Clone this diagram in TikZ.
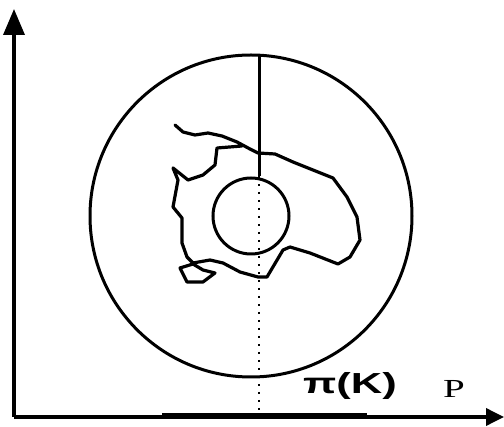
\documentclass[tikz,border=0pt]{standalone}
\usepackage{fontspec}
\newfontfamily\labelfont{Liberation Sans}
\newfontfamily\axisfont{Liberation Serif}
\usetikzlibrary{arrows.meta}

\begin{document}
\begin{tikzpicture}[
  x=1pt, y=-1pt,
  eixo/.style={line width=3.6pt},
  curva/.style={line width=3.2pt, line join=round, line cap=round},
  circulo/.style={line width=3pt},
  pontilhado/.style={line width=2.4pt, dash pattern=on 2.2pt off 5.8pt}
]
  \useasboundingbox (0,0) rectangle (504,427);

  % eixos
  \coordinate (origem) at (14,417);
  \coordinate (topo) at (14,9);
  \coordinate (fim) at (504,417);
  \draw[eixo, -{Triangle[length=26pt,width=21pt]}] (origem) -- (topo);
  \draw[eixo, -{Triangle[length=18pt,width=17pt]}] (origem) -- (fim);

  % projecao pi(K)
  \coordinate (pa) at (162,416);
  \coordinate (pb) at (367,416);
  \draw[line width=5.4pt] (pa) -- (pb);

  % circulos
  \coordinate (centro) at (251,216);
  \draw[circulo] (centro) circle[radius=161pt];
  \draw[circulo] (centro) circle[radius=38pt];

  % reta vertical
  \coordinate (r1) at (259,55);
  \coordinate (r2) at (259,176);
  \coordinate (r3) at (259,416);
  \draw[line width=3pt] (r1) -- (r2);
  \draw[pontilhado] (r2) -- (r3);

  % conjunto K
  \draw[curva] (175,125) -- (183,132) -- (195,135) -- (208,133) -- (222,136)
    -- (237,142) -- (250,149) -- (258,153) -- (275,154) -- (293,162)
    -- (313,170) -- (333,178) -- (347,197) -- (357,217) -- (360,240)
    -- (350,257) -- (338,264) -- (310,253) -- (290,247) -- (283,250)
    -- (267,277) -- (258,277) -- (240,272) -- (223,263) -- (210,260)
    -- (193,263) -- (187,257) -- (182,243) -- (182,218) -- (173,207)
    -- (178,180) -- (173,168) -- (188,180) -- (203,175) -- (215,165)
    -- (217,148) -- (242,146);
  \draw[curva] (193,264) -- (180,268) -- (187,282) -- (203,282)
    -- (215,273) -- (203,270) -- cycle;

  % rotulos
  \node[font=\labelfont\bfseries\fontsize{29}{32}\selectfont] (rotK) at (350,386)
    {\scalebox{1.5}[1]{π(K)}};
  \node[font=\axisfont\fontsize{26}{30}\selectfont] (rotP) at (454,389)
    {\scalebox{1.5}[1]{P}};
\end{tikzpicture}
\end{document}
